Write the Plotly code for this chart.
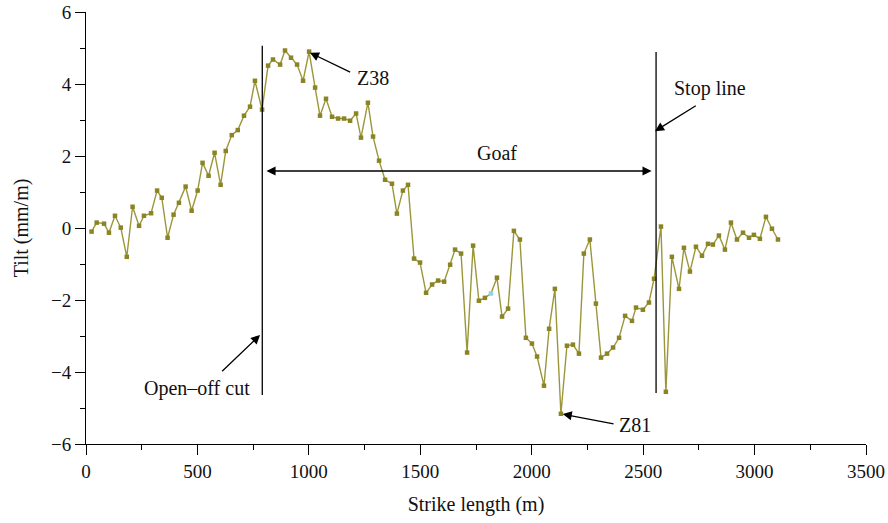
import plotly.graph_objects as go

# Strike length (m) and tilt (mm/m)
strike = [25, 48, 81, 103, 130, 156, 183, 209, 238, 260,
          292, 319, 340, 366, 393, 417, 447, 474, 501, 523,
          550, 577, 604, 627, 654, 681, 709, 736, 758, 790,
          817, 839, 871, 893, 920, 947, 974, 1001, 1028, 1050,
          1077, 1104, 1131, 1158, 1185, 1212, 1234, 1265, 1288, 1315,
          1342, 1373, 1395, 1422, 1445, 1472, 1499, 1526, 1553, 1580,
          1607, 1634, 1656, 1683, 1710, 1737, 1763, 1790, 1817, 1844,
          1867, 1894, 1920, 1947, 1974, 2001, 2024, 2055, 2078, 2104,
          2131, 2158, 2185, 2212, 2234, 2261, 2288, 2311, 2338, 2365,
          2392, 2419, 2450, 2468, 2499, 2526, 2549, 2580, 2602, 2629,
          2661, 2683, 2710, 2737, 2764, 2791, 2813, 2840, 2867, 2894,
          2921, 2948, 2975, 2997, 3024, 3051, 3078, 3105]
tilt = [-0.10, 0.15, 0.12, -0.13, 0.34, 0.01, -0.80, 0.59, 0.06, 0.34,
        0.41, 1.04, 0.84, -0.27, 0.37, 0.70, 1.15, 0.48, 1.04, 1.81,
        1.45, 2.09, 1.20, 2.14, 2.58, 2.72, 3.12, 3.37, 4.09, 3.29,
        4.51, 4.68, 4.54, 4.93, 4.73, 4.54, 4.09, 4.90, 3.90, 3.12,
        3.59, 3.09, 3.04, 3.04, 2.98, 3.18, 2.51, 3.48, 2.54, 1.87,
        1.34, 1.23, 0.40, 1.04, 1.20, -0.85, -0.96, -1.80, -1.57, -1.46,
        -1.49, -1.02, -0.60, -0.71, -3.46, -0.49, -2.02, -1.94, -1.82, -1.38,
        -2.46, -2.24, -0.08, -0.32, -3.05, -3.21, -3.57, -4.38, -2.80, -1.69,
        -5.16, -3.27, -3.24, -3.49, -0.71, -0.32, -2.10, -3.60, -3.49, -3.32,
        -3.05, -2.44, -2.58, -2.21, -2.27, -2.07, -1.41, 0.04, -4.55, -0.80,
        -1.69, -0.55, -1.21, -0.52, -0.77, -0.44, -0.46, -0.21, -0.60, 0.15,
        -0.32, -0.13, -0.27, -0.19, -0.30, 0.31, -0.02, -0.32]

x_ticks = [0, 500, 1000, 1500, 2000, 2500, 3000, 3500]
y_ticks = [-6, -4, -2, 0, 2, 4, 6]

cut_x = 791      # open-off cut position (m)
stop_x = 2558    # stop line position (m)
highlight_x = 1817

OLIVE = "#8a8424"
LINE = "#9c963a"
FONT = "Liberation Serif"

marker_colors = ["#8fd3e6" if x == highlight_x else OLIVE for x in strike]

fig = go.Figure()
fig.add_trace(go.Scatter(
    x=strike, y=tilt, mode="lines+markers",
    line=dict(color=LINE, width=1.4),
    marker=dict(symbol="square", size=4.5, color=marker_colors, line=dict(width=0)),
    showlegend=False, hoverinfo="x+y",
))

# vertical lines
fig.add_shape(type="line", xref="x", yref="y", x0=cut_x, x1=cut_x, y0=-4.64, y1=5.06,
              line=dict(color="black", width=1.3))
fig.add_shape(type="line", xref="x", yref="y", x0=stop_x, x1=stop_x, y0=-4.58, y1=4.89,
              line=dict(color="black", width=1.3))

arrow_style = dict(showarrow=True, arrowhead=2, arrowsize=1.4, arrowwidth=1.3,
                   arrowcolor="black", axref="x", ayref="y", xref="x", yref="y", text="")

annotations = [
    dict(x=2538, y=1.583, ax=803, ay=1.583, arrowside="end+start", **arrow_style),
    dict(x=1005, y=4.87, ax=1192, ay=4.31, **arrow_style),
    dict(x=781, y=-2.97, ax=604, ay=-4.02, **arrow_style),
    dict(x=2553, y=2.69, ax=2743, ay=3.42, **arrow_style),
    dict(x=2139, y=-5.17, ax=2374, ay=-5.45, **arrow_style),
]
labels = [
    ("Goaf", 1843, 2.09),
    ("Z38", 1286, 4.17),
    ("Open\u2013off cut", 497, -4.45),
    ("Stop line", 2800, 3.88),
    ("Z81", 2463, -5.47),
]
for t, x, y in labels:
    annotations.append(dict(x=x, y=y, xref="x", yref="y", text=t, showarrow=False,
                            xanchor="center", yanchor="middle",
                            font=dict(family=FONT, size=20, color="#111")))

fig.update_layout(
    width=888, height=523,
    margin=dict(l=86, r=22, t=12, b=79),
    plot_bgcolor="white", paper_bgcolor="white",
    font=dict(family=FONT, size=19, color="#111"),
    annotations=annotations,
    xaxis=dict(range=[0, 3500], tickvals=x_ticks, showgrid=False, zeroline=False,
               automargin=False,
               showline=True, linecolor="black", linewidth=1,
               ticks="outside", ticklen=10, tickwidth=1, tickcolor="black",
               minor=dict(dtick=250, tick0=0, ticks="outside", ticklen=5, tickcolor="black", showgrid=False),
               title=dict(text="Strike length (m)", font=dict(size=20), standoff=16)),
    yaxis=dict(range=[-6, 6], tickvals=y_ticks, showgrid=False, zeroline=False,
               automargin=False,
               showline=True, linecolor="black", linewidth=1,
               ticks="outside", ticklen=10, tickwidth=1, tickcolor="black",
               minor=dict(dtick=1, tick0=0, ticks="outside", ticklen=5, tickcolor="black", showgrid=False),
               title=dict(text="Tilt (mm/m)", font=dict(size=20), standoff=16)),
)

fig.write_html("out.html")
